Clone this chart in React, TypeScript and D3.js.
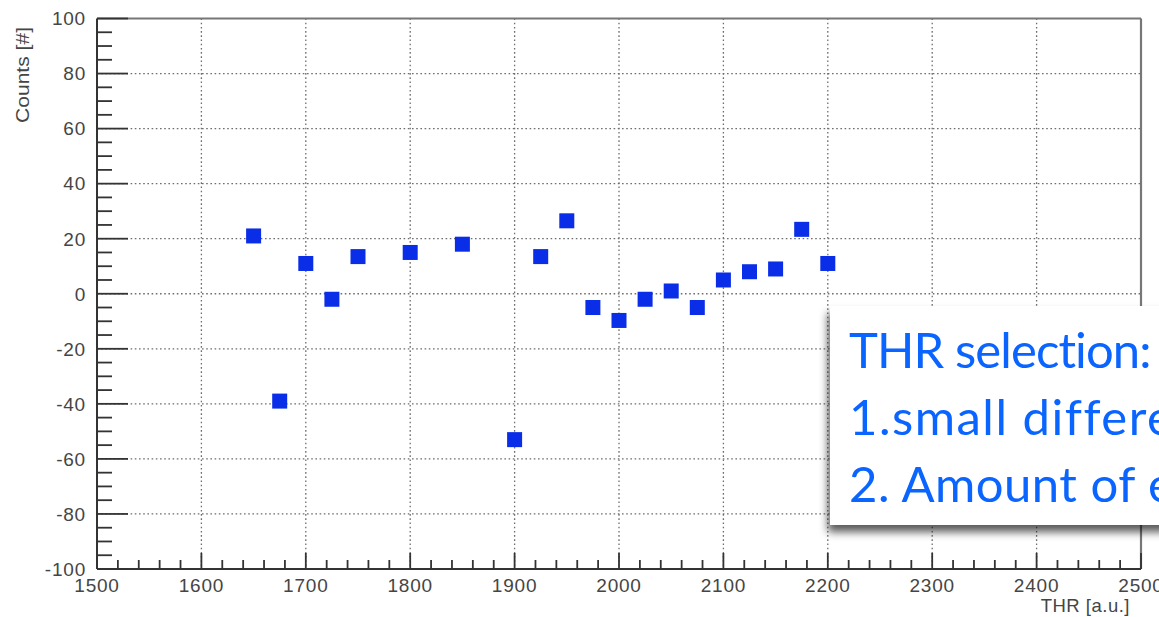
import React from "react";
import * as d3 from "d3";

const thr = [1650, 1675, 1700, 1725, 1750, 1800, 1850, 1900, 1925, 1950, 1975, 2000, 2025, 2050, 2075, 2100, 2125, 2150, 2175, 2200];
const counts = [21, -39, 11, -2, 13.5, 15, 18, -53, 13.5, 26.5, -5, -9.7, -2, 1, -5, 5, 8, 9, 23.4, 11];
const xTicks = [1500, 1600, 1700, 1800, 1900, 2000, 2100, 2200, 2300, 2400, 2500];
const yTicks = [-100, -80, -60, -40, -20, 0, 20, 40, 60, 80, 100];
const noteLines = ["THR selection:", "1.small difference", "2. Amount of events"];
const noteSpacing = [-0.9, 1.5, 0.5];
const noteWordSpacing = [0, 0, 0];

const W = 1159, H = 617;
const L = 97, R = 1141, T = 18.5, B = 569;

export default function App() {
  const x = d3.scaleLinear().domain([1500, 2500]).range([L, R]);
  const y = d3.scaleLinear().domain([-100, 100]).range([B, T]);
  const xMinor = d3.range(1500, 2501, 20).filter((v) => v % 100 !== 0);
  const yMinor = d3.range(-100, 101, 5).filter((v) => v % 20 !== 0);
  const gridX = xTicks.filter((v) => v > 1500 && v < 2500);
  const gridY = yTicks.filter((v) => v > -100 && v < 100);
  const axisCol = "#333";
  const textCol = "#454545";
  const font = "'Liberation Sans', Arial, sans-serif";
  const ms = 15;
  return (
    <svg width={W} height={H} style={{ position: "fixed", left: 0, top: 0, background: "#fff" }} xmlns="http://www.w3.org/2000/svg">
      <defs>
        <filter id="shadow" x="-10%" y="-10%" width="130%" height="140%">
          <feDropShadow dx={-2} dy={7} stdDeviation={4} floodColor="#000" floodOpacity={0.65} />
        </filter>
        <clipPath id="pageClip"><rect x={0} y={0} width={W} height={H} /></clipPath>
      </defs>
      <rect x={0} y={0} width={W} height={H} fill="#fff" />
      {/* grid */}
      <g stroke="#6e6e6e" strokeWidth={1.3} strokeDasharray="1.6,2.6">
        {gridX.map((v) => (
          <line key={"gx" + v} x1={x(v)} x2={x(v)} y1={T} y2={B} />
        ))}
        {gridY.map((v) => (
          <line key={"gy" + v} x1={L} x2={R} y1={y(v)} y2={y(v)} />
        ))}
      </g>
      {/* frame top and right */}
      <line x1={L} x2={R} y1={T} y2={T} stroke="#777" strokeWidth={2.2} />
      <line x1={R} x2={R} y1={T} y2={B} stroke="#777" strokeWidth={2.2} />
      {/* axes */}
      <line x1={L} x2={L} y1={T} y2={B} stroke={axisCol} strokeWidth={2} />
      <line x1={L} x2={R} y1={B} y2={B} stroke={axisCol} strokeWidth={2} />
      <g stroke={axisCol} strokeWidth={1.8}>
        {yTicks.map((v) => (
          <line key={"yt" + v} x1={L} x2={L + 31} y1={y(v)} y2={y(v)} />
        ))}
        {yMinor.map((v) => (
          <line key={"ym" + v} x1={L} x2={L + 15} y1={y(v)} y2={y(v)} />
        ))}
        {xTicks.map((v) => (
          <line key={"xt" + v} x1={x(v)} x2={x(v)} y1={B} y2={B - 16} />
        ))}
        {xMinor.map((v) => (
          <line key={"xm" + v} x1={x(v)} x2={x(v)} y1={B} y2={B - 9} />
        ))}
      </g>
      {/* tick labels */}
      <g fill={textCol} fontFamily={font} fontSize={19} letterSpacing={0.8}>
        {yTicks.map((v) => (
          <text key={"yl" + v} x={L - 11} y={y(v)} dy="0.36em" textAnchor="end">{v}</text>
        ))}
        {xTicks.map((v) => (
          <text key={"xl" + v} x={x(v)} y={592} textAnchor="middle">{v}</text>
        ))}
      </g>
      <text x={1130} y={612} textAnchor="end" fill={textCol} fontFamily={font} fontSize={18.5} letterSpacing={0.5}>THR [a.u.]</text>
      <text transform="translate(29,123) rotate(-90)" textAnchor="start" fill={textCol} fontFamily={font} fontSize={18} textLength={96} lengthAdjust="spacingAndGlyphs">Counts [#]</text>
      {/* markers */}
      <g fill="#0a2ee8">
        {thr.map((t, i) => (
          <rect key={"p" + t} x={x(t) - ms / 2} y={y(counts[i]) - ms / 2} width={ms} height={ms} />
        ))}
      </g>
      {/* note box */}
      <g clipPath="url(#pageClip)">
        <rect x={830} y={306} width={420} height={219} fill="#fff" filter="url(#shadow)" />
        <g fill="#0a64ff" fontFamily="Lato, 'Open Sans', sans-serif" fontSize={49}>
          {noteLines.map((s, i) => (
            <text key={"n" + i} x={849} y={368 + i * 67} letterSpacing={noteSpacing[i]} wordSpacing={noteWordSpacing[i]}>{s}</text>
          ))}
        </g>
      </g>
    </svg>
  );
}
